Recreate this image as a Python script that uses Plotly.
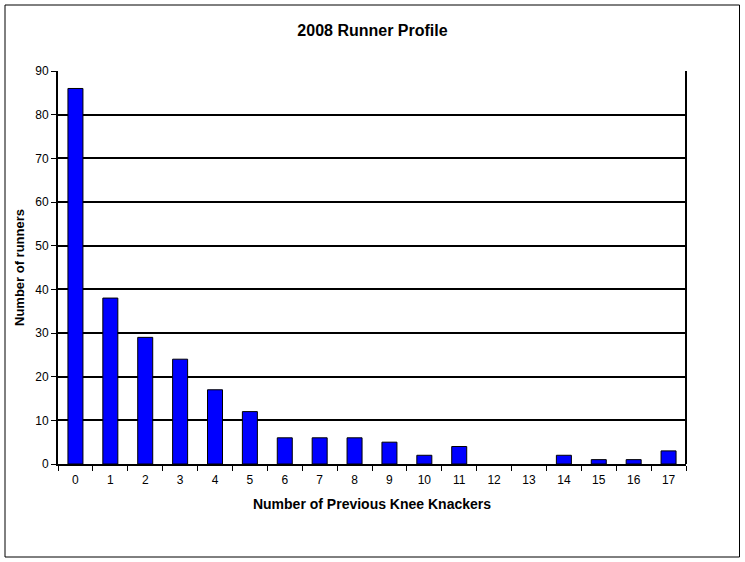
import plotly.graph_objects as go

# previous knee knackers vs count of runners
knackers = [str(i) for i in range(18)]
runners = [86, 38, 29, 24, 17, 12, 6, 6, 6, 5, 2, 4, 0, 0, 2, 1, 1, 3]
y_ticks = list(range(0, 100, 10))

W, H = 745, 562
L, R, T, B = 58, 59, 71, 98
pw, ph = W - L - R, H - T - B

fig = go.Figure()
fig.add_trace(go.Bar(
    x=knackers, y=runners,
    # no outline on empty bars, so nothing shows on the axis
    marker=dict(color="#0000FF",
                line=dict(color="black", width=[1 if v else 0 for v in runners])),
))

font = "Liberation Sans, Arial, sans-serif"
fig.update_layout(
    width=W, height=H,
    margin=dict(l=L, r=R, t=T, b=B),
    paper_bgcolor="white", plot_bgcolor="white",
    font=dict(family=font, size=12, color="black"),
    bargap=0.57,
    showlegend=False,
    title=dict(text="<b>2008 Runner Profile</b>", x=0.5, xanchor="center",
               y=1 - 30 / H, yanchor="middle", font=dict(size=16)),
)
fig.update_xaxes(
    type="category",
    showline=True, linecolor="black", linewidth=2,
    ticks="outside", ticklen=5, tickcolor="black", tickwidth=1,
    tickson="boundaries", ticklabelstandoff=4,
    showgrid=False, layer="above traces",
    title=dict(text="<b>Number of Previous Knee Knackers</b>", font=dict(size=14), standoff=13),
)
fig.update_yaxes(
    range=[0, 90], tickvals=y_ticks,
    showline=True, linecolor="black", linewidth=2,
    ticks="outside", ticklen=5, tickcolor="black", tickwidth=1,
    showgrid=True, gridcolor="black", gridwidth=2,
    zeroline=False,
    title=dict(text="<b>Number of runners</b>", font=dict(size=13), standoff=8),
)

# right edge of plot area
fig.add_shape(type="line", xref="paper", yref="paper", x0=1, x1=1, y0=0, y1=1,
              line=dict(color="black", width=2))
# outer chart frame
fig.add_shape(type="rect", xref="paper", yref="paper",
              x0=(5 - L) / pw, x1=(739.5 - L) / pw,
              y0=(H - B - 557) / ph, y1=(H - B - 5) / ph,
              line=dict(color="black", width=1))

# page has a default body margin; drop it so the chart sits at 0,0
fig.write_html("out.html", config={"displayModeBar": False},
               post_script="document.body.style.margin='0';")
